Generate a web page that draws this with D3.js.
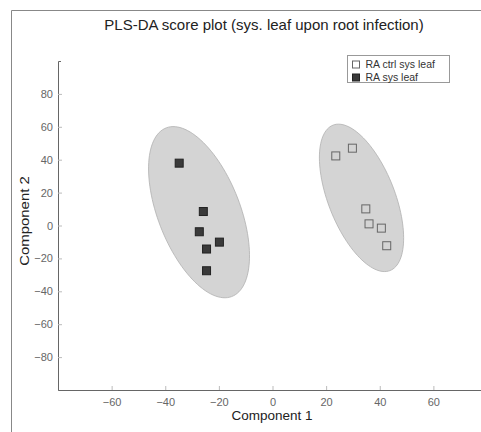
<!DOCTYPE html>
<meta charset='utf-8'>
<style>
html, body { margin: 0; padding: 0; background: #fff; }
svg { display: block; font-family: 'Liberation Sans', Arial, sans-serif; }
.axis path, .axis line { stroke: #666; }
.axis .tick line { stroke: #bbb; }
.axis text { fill: #666; font-size: 11px; }
</style>
<body>
<div id='chart'></div>
<script src='https://cdn.jsdelivr.net/npm/d3@7/dist/d3.min.js'></script>
<script>

// values
var ctrlX = [23.6, 29.8, 34.8, 36.0, 40.6, 42.6];
var ctrlY = [42.3, 47.0, 10.1, 1.0, -1.6, -12.3];
var sysX = [-34.8, -25.8, -27.3, -19.8, -24.6, -24.6];
var sysY = [37.9, 8.5, -3.8, -10.1, -14.3, -27.5];

// group ellipses: centre, semi-axes, angle (deg) in data units
var ellCx = [33.2, -27.4];
var ellCy = [16.8, 8.1];
var ellRa = [45.7, 53.0];
var ellRb = [12.9, 15.9];
var ellAng = [101.8, 101.5];

var seriesNames = ['RA ctrl sys leaf', 'RA sys leaf'];
var xTicks = [-60, -40, -20, 0, 20, 40, 60];
var yTicks = [-80, -60, -40, -20, 0, 20, 40, 60, 80];

var W = 481, H = 432;
var svg = d3.select('#chart').append('svg')
    .attr('width', W)
    .attr('height', H);

// outer frame
svg.append('path')
    .attr('d', 'M11.5,' + H + 'V10.5H' + W)
    .attr('fill', 'none')
    .attr('stroke', '#888');

var x = d3.scaleLinear().domain([-80, 80]).range([58, 487]);
var y = d3.scaleLinear().domain([-100, 100]).range([390, 61]);

// ellipses
for (var e = 0; e < ellCx.length; e++) {
  var pts = [];
  var th = ellAng[e] * Math.PI / 180;
  for (var k = 0; k <= 120; k++) {
    var t = k / 120 * 2 * Math.PI;
    var u = ellRa[e] * Math.cos(t), v = ellRb[e] * Math.sin(t);
    pts.push([x(ellCx[e] + u * Math.cos(th) - v * Math.sin(th)),
              y(ellCy[e] + u * Math.sin(th) + v * Math.cos(th))]);
  }
  svg.append('path')
    .attr('d', d3.line()(pts) + 'Z')
    .attr('fill', '#d4d4d4')
    .attr('stroke', '#b0b0b0')
    .attr('stroke-width', 0.8);
}

// axes
svg.append('g')
    .attr('class', 'axis')
    .attr('transform', 'translate(0,390)')
    .call(d3.axisBottom(x).tickValues(xTicks).tickSize(-4).tickSizeOuter(0).tickPadding(8)
      .tickFormat(function(d){ return d < 0 ? '\u2212' + (-d) : d; }));

svg.append('g')
    .attr('class', 'axis')
    .attr('transform', 'translate(58,0)')
    .call(d3.axisLeft(y).tickValues(yTicks).tickSize(-4).tickSizeOuter(-3).tickPadding(5)
      .tickFormat(function(d){ return d < 0 ? '\u2212' + (-d) : d; }));

// points
var ctrl = ctrlX.map(function(d, i){ return [d, ctrlY[i]]; });
var sys = sysX.map(function(d, i){ return [d, sysY[i]]; });

svg.selectAll('.ctrl').data(ctrl).enter().append('rect')
    .attr('class', 'ctrl')
    .attr('x', function(d){ return x(d[0]) - 4; })
    .attr('y', function(d){ return y(d[1]) - 4; })
    .attr('width', 8).attr('height', 8)
    .attr('fill', 'none')
    .attr('stroke', '#666');

svg.selectAll('.sys').data(sys).enter().append('rect')
    .attr('class', 'sys')
    .attr('x', function(d){ return x(d[0]) - 4; })
    .attr('y', function(d){ return y(d[1]) - 4; })
    .attr('width', 8).attr('height', 8)
    .attr('fill', '#3a3a3a')
    .attr('stroke', '#222');

// legend
var lg = svg.append('g').attr('transform', 'translate(347.5,55.5)');
lg.append('rect').attr('width', 102).attr('height', 27)
    .attr('fill', '#fff').attr('stroke', '#999');
seriesNames.forEach(function(name, i) {
  lg.append('rect')
    .attr('x', 5).attr('y', 5.5 + i * 13)
    .attr('width', 7).attr('height', 7)
    .attr('fill', i ? '#3a3a3a' : '#fff')
    .attr('stroke', i ? '#222' : '#666');
  lg.append('text')
    .attr('x', 18).attr('y', 12.5 + i * 13)
    .attr('font-size', 10.5)
    .attr('fill', '#333')
    .text(name);
});

// titles
svg.append('text')
    .attr('x', 264).attr('y', 30)
    .attr('text-anchor', 'middle')
    .attr('font-size', 15)
    .attr('fill', '#222')
    .text('PLS-DA score plot (sys. leaf upon root infection)');

svg.append('text')
    .attr('x', 272).attr('y', 420)
    .attr('text-anchor', 'middle')
    .attr('font-size', 13.5)
    .attr('fill', '#222')
    .text('Component 1');

svg.append('text')
    .attr('transform', 'translate(29,221) rotate(-90) scale(1.15,1)')
    .attr('text-anchor', 'middle')
    .attr('font-size', 13)
    .attr('fill', '#222')
    .text('Component 2');

</script>
</body>
